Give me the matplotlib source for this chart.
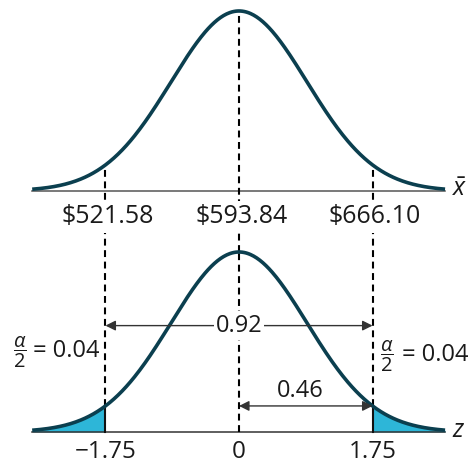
import numpy as np
import matplotlib
matplotlib.use("Agg")
import matplotlib.pyplot as plt

plt.rcParams['font.family'] = ['Open Sans', 'DejaVu Sans']
plt.rcParams['mathtext.fontset'] = 'custom'
plt.rcParams['mathtext.rm'] = 'Open Sans'
plt.rcParams['mathtext.it'] = 'Open Sans:italic'

# values from the chart
xbar_mean = 593.84
xbar_bounds = [521.58, 666.10]
z_crit = 1.75
half_alpha = 0.04
conf_level = 0.92
half_conf = 0.46

curve_color = "#0b3f4f"
shade_color = "#2db6d8"
line_color = "#333333"
text_color = "#1a1a1a"

curve_sd = 0.89          # drawn width of the bell shape
top_base = 1.339         # baseline of the x-bar panel
bot_base = 0.0           # baseline of the z panel
x_lo, x_hi = -2.71, 2.70

se = (xbar_bounds[1] - xbar_mean) / z_crit
xbar_ticks = [xbar_bounds[0], xbar_mean, xbar_bounds[1]]
xbar_z = [(v - xbar_mean) / se for v in xbar_ticks]
z_ticks = [-z_crit, 0, z_crit]
z_labels = ["\u22121.75", "0", "1.75"]


def bell(z):
    return np.exp(-z ** 2 / (2 * curve_sd ** 2))


fig = plt.figure(figsize=(4.70, 4.66), dpi=100)
ax = fig.add_axes([0, 0, 1, 1])
ax.set_xlim(-3.132, 3.027)
ax.set_ylim(-0.189, 2.4)
ax.axis("off")

z = np.linspace(x_lo, x_hi, 400)

# axes lines
ax.plot([x_lo, x_hi], [top_base, top_base], color="#555555", lw=1.1, zorder=2)
ax.plot([x_lo, x_hi], [bot_base, bot_base], color=line_color, lw=1.1, zorder=2)

# curves
ax.plot(z, top_base + bell(z), color=curve_color, lw=2.6, zorder=4,
        solid_capstyle="butt")
ax.plot(z, bot_base + bell(z), color=curve_color, lw=2.6, zorder=4,
        solid_capstyle="butt")

# shaded tails
left = np.append(z[z <= -z_crit], -z_crit)
right = np.insert(z[z >= z_crit], 0, z_crit)
ax.fill_between(left, bot_base, bell(left), color=shade_color, lw=0, zorder=1)
ax.fill_between(right, bot_base, bell(right), color=shade_color, lw=0, zorder=1)
for zc in [-z_crit, z_crit]:
    ax.plot([zc, zc], [bot_base, bell(zc)], color="#111111", lw=1.5, zorder=3)

# dashed connectors
dash = dict(color="black", lw=1.5, dashes=(3.3, 2.2), zorder=2)
for zc in xbar_z:
    ax.plot([zc, zc], [bot_base + bell(zc), top_base + bell(zc)], **dash)
ax.plot([0, 0], [bot_base, bot_base + bell(0)], **dash)

# tick labels
box = dict(facecolor="white", edgecolor="none", pad=2.5)
for zc, v in zip(xbar_z, xbar_ticks):
    ax.text(zc + 0.03, top_base - 0.143, f"${v:.2f}", ha="center", va="center",
            fontsize=18, color=text_color, bbox=box, zorder=5)
for zc, lab in zip(z_ticks, z_labels):
    ax.text(zc, bot_base - 0.111, lab, ha="center", va="center",
            fontsize=17.5, color=text_color, zorder=5)

ax.text(2.79, top_base + 0.01, r"$\bar{x}$", ha="left", va="center",
        fontsize=18, color=text_color)
ax.text(2.79, bot_base + 0.01, r"$z$", ha="left", va="center",
        fontsize=18, color=text_color)

# arrows
arrow = dict(arrowstyle="<|-|>", color=line_color, lw=1.0,
             mutation_scale=15, shrinkA=0, shrinkB=0)
y_conf = 0.591
ax.annotate("", xy=(z_crit, y_conf), xytext=(-z_crit, y_conf),
            arrowprops=arrow, zorder=5)
ax.text(0, y_conf, f"{conf_level:.2f}", ha="center", va="center",
        fontsize=17, color=text_color,
        bbox=dict(facecolor="white", edgecolor="none", pad=1.5), zorder=6)
y_half = bell(z_crit)
ax.annotate("", xy=(z_crit, y_half), xytext=(0, y_half),
            arrowprops=arrow, zorder=5)
ax.text(0.80, y_half + 0.085, f"{half_conf:.2f}", ha="center",
        va="center", fontsize=17, color=text_color, zorder=6)

# alpha/2 labels: stacked fraction, then "= 0.04"
for fx, tx, ty in [(-2.87, -2.70, 0.452), (1.936, 2.13, 0.428)]:
    ax.text(fx, ty - 0.01, r"$\dfrac{\alpha}{2}$", ha="center", va="center",
            fontsize=14.5, color=text_color)
    ax.text(tx, ty, f"= {half_alpha:.2f}", ha="left", va="center",
            fontsize=17, color=text_color)

fig.savefig("out.png", dpi=100)
